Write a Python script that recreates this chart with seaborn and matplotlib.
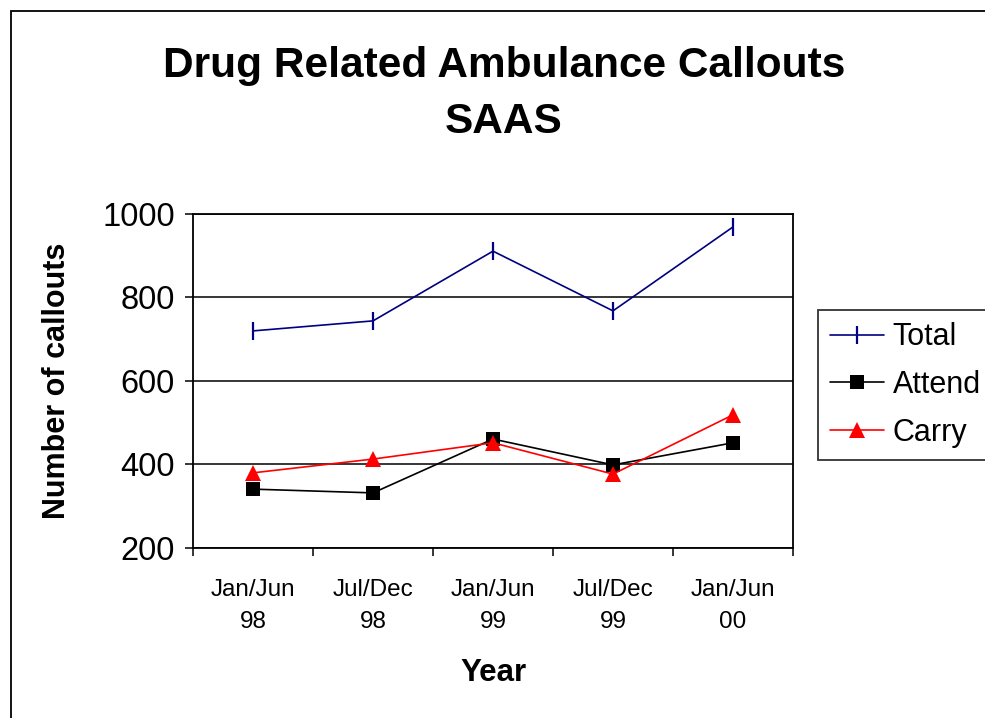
import pandas as pd
import matplotlib
matplotlib.use("Agg")
import matplotlib.pyplot as plt
from matplotlib.patches import Rectangle
import seaborn as sns

# data
periods = ["Jan/Jun\n98", "Jul/Dec\n98", "Jan/Jun\n99", "Jul/Dec\n99", "Jan/Jun\n00"]
total = [720, 744, 911, 768, 969]
attend = [341, 332, 461, 399, 452]
carry = [380, 413, 452, 377, 519]

df = pd.DataFrame({"pos": range(len(periods)), "Total": total, "Attend": attend, "Carry": carry})
long_df = df.melt(id_vars="pos", var_name="series", value_name="callouts")

sns.set_style("white")
plt.rcParams["font.family"] = ["Liberation Sans", "DejaVu Sans"]
plt.rcParams["text.color"] = "black"
plt.rcParams["xtick.color"] = "black"
plt.rcParams["ytick.color"] = "black"
plt.rcParams["axes.labelcolor"] = "black"

fig = plt.figure(figsize=(9.85, 7.18), dpi=100)
ax = fig.add_axes([193 / 985, 1 - 548 / 718, 600 / 985, 334 / 718])

palette = {"Total": "#000080", "Attend": "#000000", "Carry": "#FF0000"}
markers = {"Total": "|", "Attend": "s", "Carry": "^"}
sizes = {"Total": 13, "Attend": 10, "Carry": 11}

for name in ["Total", "Attend", "Carry"]:
    sub = long_df[long_df.series == name]
    sns.lineplot(data=sub, x="pos", y="callouts", ax=ax, color=palette[name],
                 marker=markers[name], markersize=sizes[name], markeredgewidth=1.6 if name == "Total" else 0,
                 markeredgecolor=palette[name], linewidth=1.2, label=name, legend=False)

ax.set_xlim(-0.5, 4.5)
ax.set_ylim(200, 1000)
ax.set_yticks([200, 400, 600, 800, 1000])
ax.set_xticks(range(len(periods)))
ax.set_xticklabels(periods, fontsize=17.5)
ax.set_xticks([i - 0.5 for i in range(len(periods) + 1)], minor=True)
ax.tick_params(axis="x", which="major", bottom=True, length=0, pad=22)
ax.tick_params(axis="x", which="minor", bottom=True, length=6, width=1.1, color="black", direction="out")
ax.tick_params(axis="y", which="major", left=True, length=6, width=1.1, color="black", direction="out",
               labelsize=23.5, pad=7)
for lbl in ax.get_xticklabels():
    lbl.set_linespacing(1.6)

ax.grid(axis="y", color="black", linewidth=1.1)
ax.set_axisbelow(True)
for s in ax.spines.values():
    s.set_visible(True)
    s.set_color("black")
    s.set_linewidth(1.3)

ax.set_xlabel("Year", fontsize=22.5, fontweight="bold")
ax.set_ylabel("Number of callouts", fontsize=22, fontweight="bold")
ax.xaxis.set_label_coords(0.5, -0.374)
ax.xaxis.label.set_va("center")
ax.yaxis.set_label_coords(-0.227, 0.5)
ax.yaxis.label.set_va("center")

fig.text(504 / 985, 1 - 94 / 718, "Drug Related Ambulance Callouts\nSAAS", ha="center", va="center",
         fontsize=30.5, fontweight="bold", linespacing=1.5)

handles, labels = ax.get_legend_handles_labels()
leg = fig.legend(handles, labels, loc="upper left", bbox_to_anchor=(818 / 985, 1 - 310 / 718),
                 fontsize=22, frameon=True, fancybox=False, handlelength=1.75, handletextpad=0.3,
                 labelspacing=0.58, borderpad=0.4, borderaxespad=0)
leg.get_frame().set_edgecolor("black")
leg.get_frame().set_linewidth(1.3)

# outer chart border, cut off on right and bottom
fig.patches.append(Rectangle((11 / 985, -0.1), 1.2, 1 - 11 / 718 + 0.1, transform=fig.transFigure,
                             fill=False, edgecolor="black", linewidth=1.3))

fig.savefig("out.png", dpi=100)
